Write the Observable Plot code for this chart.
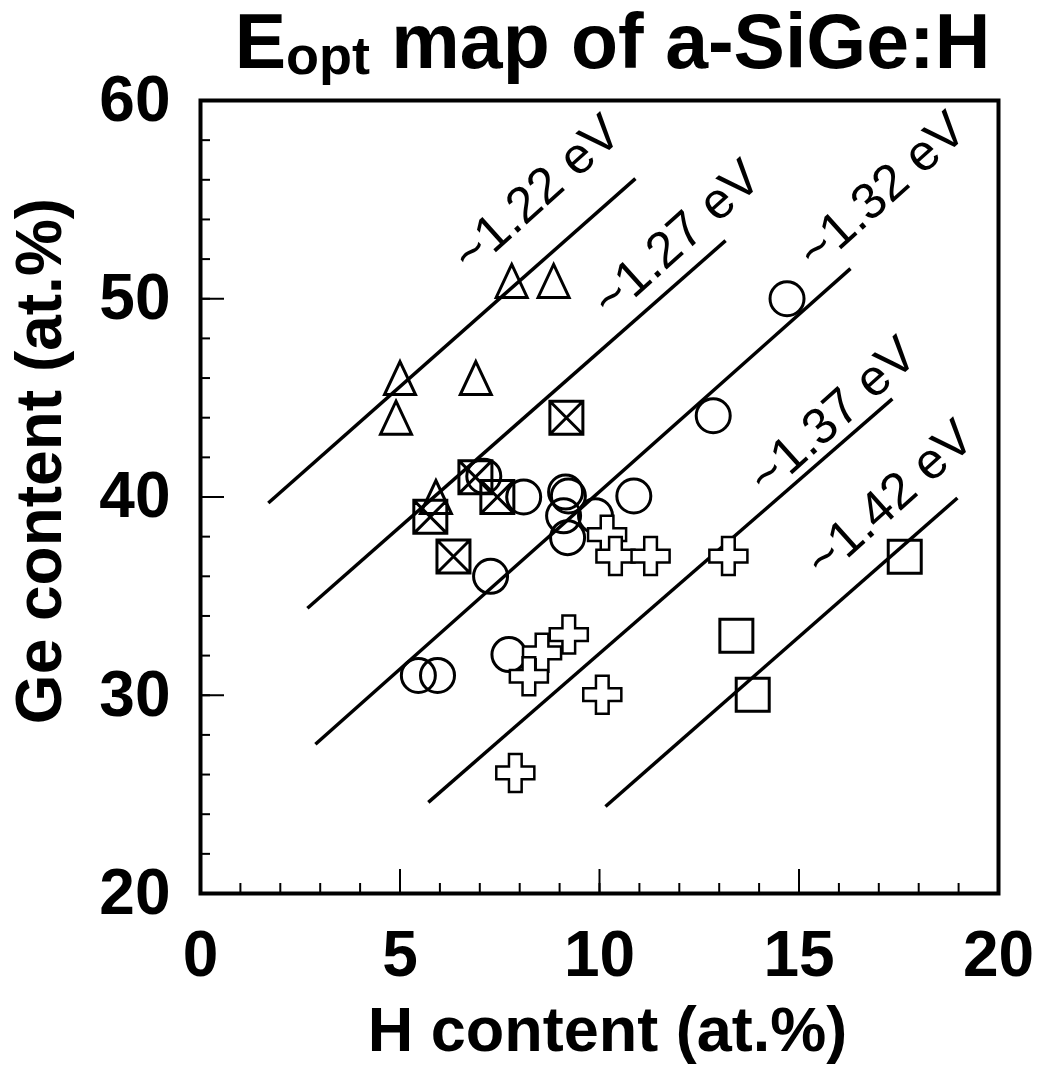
<!DOCTYPE html>
<html><head><meta charset="utf-8">
<script src="https://cdn.jsdelivr.net/npm/d3@7"></script>
<script src="https://cdn.jsdelivr.net/npm/@observablehq/plot@0.6"></script>
<style>
body{margin:0;background:#fff;}
#title{height:90px;width:1045px;box-sizing:border-box;padding-left:180px;text-align:center;
 font-family:"Liberation Sans",Arial,Helvetica,sans-serif;font-weight:bold;font-size:77px;line-height:82px;color:#000;overflow:visible;white-space:nowrap;}
#title sub{font-size:54px;vertical-align:baseline;position:relative;top:6px;}
</style></head><body>
<div id="title">E<sub>opt</sub> map of a-SiGe:H</div>
<div id="chart"></div>
<script>
// Triangles
const triX = [5.0, 4.9, 7.8, 8.85, 6.9, 5.9];
const triY = [46, 44, 50.9, 50.9, 46, 40];
// Crossed squares
const xsqX = [9.17, 6.89, 7.44, 5.76, 6.34];
const xsqY = [44, 41, 40, 39, 37];
// Circles
const circX = [14.7, 12.85, 7.1, 8.1, 9.15, 9.22, 9.1, 9.2, 9.9, 10.86, 7.27, 7.73, 5.46, 5.94];
const circY = [50, 44.1, 41.05, 40, 40.25, 40.05, 39.05, 37.95, 39.05, 40.05, 36, 32.05, 31, 31];
// Open crosses
const crossX = [10.19, 10.4, 11.28, 13.23, 9.23, 8.56, 8.23, 10.07, 7.89];
const crossY = [38.1, 37.02, 37.02, 37.02, 33.06, 32.14, 30.96, 30.03, 26.08];
// Open squares
const sqX = [17.65, 13.43, 13.84];
const sqY = [36.98, 33.0, 30.03];
// Iso-Eopt lines
const lineLabel = ["~1.22 eV", "~1.27 eV", "~1.32 eV", "~1.37 eV", "~1.42 eV"];
const lineX1 = [1.70, 2.68, 2.88, 5.71, 10.15];
const lineY1 = [39.70, 34.39, 27.53, 24.60, 24.39];
const lineX2 = [10.90, 13.16, 16.29, 17.34, 18.97];
const lineY2 = [56.06, 52.93, 51.52, 44.95, 39.95];
const labelX = [8.42, 11.93, 17.07, 15.84, 17.27];
const labelY = [55.3, 53.03, 55.45, 44.1, 39.9];
// Axes
const xTickLabels = [0, 5, 10, 15, 20];
const yTickLabels = [20, 30, 40, 50, 60];
const xMinor = d3.range(1, 20);
const xMajor = [5, 10, 15];
const yMinor = d3.range(22, 60, 2);
const yMajor = [30, 40, 50];
const xTitle = "H content (at.%)";
const yTitle = "Ge content (at.%)";

const idx = a => a.map((_, i) => i);
const ff = '"Liberation Sans", Arial, Helvetica, sans-serif';

const triSym = {draw(c) { const w = 15.5, h = 16.5; c.moveTo(0, -h); c.lineTo(w, h); c.lineTo(-w, h); c.closePath(); }};
const sqSym = {draw(c) { const s = 16.5; c.moveTo(-s, -s); c.lineTo(s, -s); c.lineTo(s, s); c.lineTo(-s, s); c.closePath(); }};
const xsqSym = {draw(c) { const s = 16.5; c.moveTo(-s, -s); c.lineTo(s, -s); c.lineTo(s, s); c.lineTo(-s, s); c.closePath();
  c.moveTo(-s, -s); c.lineTo(s, s); c.moveTo(s, -s); c.lineTo(-s, s); }};

const frameH = 975 - 10 - 172, frameW = 1045 - 200 - 47;

const chart = Plot.plot({
  width: 1045, height: 975,
  marginLeft: 200, marginRight: 47, marginTop: 10, marginBottom: 172,
  x: {domain: [0, 20], axis: null},
  y: {domain: [20, 60], axis: null},
  style: {fontFamily: ff, background: "white", color: "black", overflow: "visible"},
  marks: [
    Plot.link(idx(lineX1), {x1: i => lineX1[i], y1: i => lineY1[i], x2: i => lineX2[i], y2: i => lineY2[i], stroke: "black", strokeWidth: 3.5}),
    Plot.dot(idx(circX), {x: i => circX[i], y: i => circY[i], symbol: "circle", r: 17, stroke: "black", strokeWidth: 3, fill: "none"}),
    Plot.dot(idx(triX), {x: i => triX[i], y: i => triY[i], symbol: triSym, stroke: "black", strokeWidth: 3, fill: "none"}),
    Plot.dot(idx(sqX), {x: i => sqX[i], y: i => sqY[i], symbol: sqSym, stroke: "black", strokeWidth: 3, fill: "none"}),
    Plot.dot(idx(xsqX), {x: i => xsqX[i], y: i => xsqY[i], symbol: xsqSym, stroke: "black", strokeWidth: 3, fill: "none"}),
    Plot.dot(idx(crossX), {x: i => crossX[i], y: i => crossY[i], symbol: "cross", r: 16, stroke: "black", strokeWidth: 2.5, fill: "white"}),
    Plot.text(idx(labelX), {x: i => labelX[i], y: i => labelY[i], text: i => lineLabel[i], rotate: -42, fontSize: 51, fill: "black", fontFamily: ff}),
    Plot.tickX(xMinor, {x: d => d, insetTop: frameH - 10, stroke: "black", strokeWidth: 2}),
    Plot.tickX(xMajor, {x: d => d, insetTop: frameH - 24, stroke: "black", strokeWidth: 2}),
    Plot.tickY(yMinor, {y: d => d, insetRight: frameW - 10, stroke: "black", strokeWidth: 2}),
    Plot.tickY(yMajor, {y: d => d, insetRight: frameW - 24, stroke: "black", strokeWidth: 2}),
    Plot.frame({stroke: "black", strokeWidth: 4}),
    Plot.axisX({ticks: xTickLabels, tickSize: 0, tickPadding: 37, fontSize: 64, fontWeight: "bold", label: null, tickFormat: d => String(d)}),
    Plot.axisY({ticks: yTickLabels, tickSize: 0, tickPadding: 30, fontSize: 64, fontWeight: "bold", label: null, tickFormat: d => String(d)}),
    Plot.text([xTitle], {frameAnchor: "bottom", lineAnchor: "bottom", dy: 157, dx: 8, fontSize: 63, fontWeight: "bold", fill: "black"}),
    Plot.text([yTitle], {frameAnchor: "left", textAnchor: "middle", rotate: -90, dx: -160, dy: -36, fontSize: 64, fontWeight: "bold", fill: "black"})
  ]
});
document.getElementById("chart").appendChild(chart);
</script>
</body></html>
